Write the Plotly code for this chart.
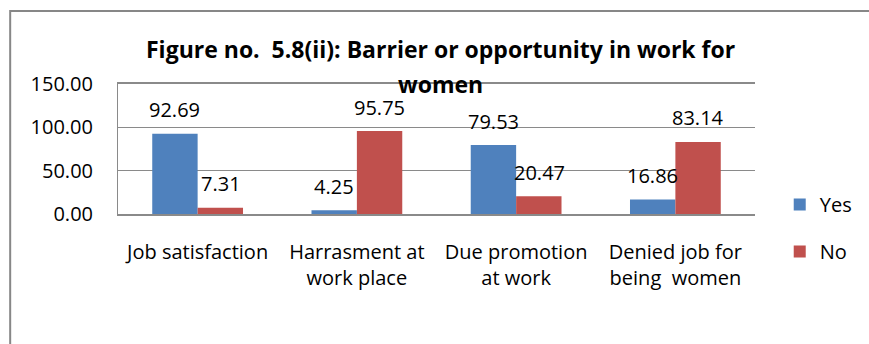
import plotly.graph_objects as go

# Survey results (percent of respondents)
categories = [
    "Job satisfaction",
    "Harrasment at<br>work place",
    "Due promotion<br>at work",
    "Denied job for<br>being\u00a0 women",
]
yes_values = [92.69, 4.25, 79.53, 16.86]
no_values = [7.31, 95.75, 20.47, 83.14]
y_ticks = [0, 50, 100, 150]
series_names = ["Yes", "No"]
series_colors = ["#4F81BD", "#C0504D"]
title_lines = [
    "Figure no.\u00a0 5.8(ii): Barrier or opportunity in work for",
    "women",
]

W, H = 869, 344
M = dict(l=118, r=107, t=84, b=130)
plot_w = W - M["l"] - M["r"]
plot_h = H - M["t"] - M["b"]
BARGAP = 0.43
FONT = "Open Sans"
GRID = "#8a8a8a"


def px_x(x):
    return (x - M["l"]) / plot_w


def px_y(y):
    return (H - M["b"] - y) / plot_h


fig = go.Figure()
for name, vals, color in zip(series_names, [yes_values, no_values], series_colors):
    fig.add_trace(go.Bar(
        x=categories, y=vals, name=name, legendgroup=name,
        marker=dict(color=color, line=dict(width=0)),
    ))

# value labels above each bar
bar_w = plot_w / len(categories) * (1 - BARGAP) / 2
annotations = []
for k, vals in enumerate([yes_values, no_values]):
    shift = (k - 0.5) * bar_w
    for cat, v in zip(categories, vals):
        annotations.append(dict(
            x=cat, y=v, xref="x", yref="y", text=f"{v:.2f}",
            showarrow=False, xshift=shift, yshift=24, yanchor="middle",
            font=dict(family=FONT, size=20, color="#000000"),
        ))

# two-line chart title
for line, ypx in zip(title_lines, [49, 84]):
    annotations.append(dict(
        x=px_x(444), y=px_y(ypx), xref="paper", yref="paper",
        text=f"<b>{line}</b>", showarrow=False,
        xanchor="center", yanchor="middle",
        font=dict(family=FONT, size=23, color="#000000"),
    ))

fig.update_layout(
    width=W, height=H,
    margin=M,
    paper_bgcolor="white", plot_bgcolor="white",
    barmode="group", bargap=BARGAP, bargroupgap=0,
    font=dict(family=FONT, size=20, color="#000000"),
    showlegend=True,
    legend=dict(
        x=px_x(787), y=px_y(228), xanchor="left", yanchor="middle",
        font=dict(family=FONT, size=20, color="#000000"),
        tracegroupgap=18, bgcolor="rgba(0,0,0,0)",
    ),
    annotations=annotations,
    shapes=[dict(
        type="rect", xref="paper", yref="paper", layer="below",
        x0=px_x(9), y0=px_y(11), x1=px_x(W + 40), y1=px_y(H + 40),
        line=dict(color="#878787", width=2), fillcolor="rgba(0,0,0,0)",
    )],
    xaxis=dict(
        showgrid=False, showline=True, linecolor=GRID, linewidth=2,
        mirror=True,
        ticks="", ticklabelstandoff=19, tickfont=dict(size=20),
    ),
    yaxis=dict(
        range=[0, 150], tickvals=y_ticks, tickformat=".2f",
        showgrid=True, gridcolor=GRID, gridwidth=1,
        showline=True, linecolor=GRID, linewidth=1,
        zeroline=False, ticks="", ticklabelstandoff=20,
        tickfont=dict(size=20),
    ),
)

fig.write_html("out.html")
